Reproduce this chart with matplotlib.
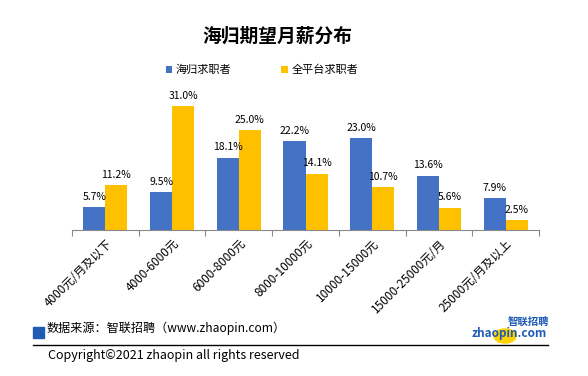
import matplotlib
matplotlib.use("Agg")
import matplotlib.pyplot as plt
import numpy as np
from matplotlib.patches import Circle, Rectangle

plt.rcParams['font.family'] = ['Noto Sans CJK SC', 'DejaVu Sans']

categories = ["4000元/月及以下", "4000-6000元", "6000-8000元", "8000-10000元",
              "10000-15000元", "15000-25000元/月", "25000元/月及以上"]
haigui = [5.7, 9.5, 18.1, 22.2, 23.0, 13.6, 7.9]
quanpingtai = [11.2, 31.0, 25.0, 14.1, 10.7, 5.6, 2.5]
series_names = ["海归求职者", "全平台求职者"]

BLUE = "#4472C4"
YELLOW = "#FFC000"

W, H = 588, 376
fig = plt.figure(figsize=(W / 100, H / 100), dpi=100)
# axes: x 72..539 px, baseline y=230 px, 4 px per percent
ax = fig.add_axes([72 / W, (H - 230) / H, (539 - 72) / W, 140 / H])
ax.set_ylim(0, 35)
x = np.arange(len(categories))
bw = 0.33
b1 = ax.bar(x - bw / 2, haigui, bw, color=BLUE, label=series_names[0])
b2 = ax.bar(x + bw / 2, quanpingtai, bw, color=YELLOW, label=series_names[1])
for bars, vals in ((b1, haigui), (b2, quanpingtai)):
    for r, v in zip(bars, vals):
        ax.text(r.get_x() + r.get_width() / 2, v + 1.3, f"{v:.1f}%",
                ha="center", va="bottom", fontsize=7.5)
ax.set_xlim(-0.5, len(categories) - 0.5)
ax.set_xticks(np.arange(len(categories) + 1) - 0.5, minor=False)
ax.set_xticklabels([])
ax.tick_params(axis="x", length=4, color="#888888", width=0.8)
ax.set_xticks(x, minor=True)
ax.set_xticklabels(categories, minor=True, rotation=45, ha="right",
                   rotation_mode="anchor", fontsize=8.5)
ax.tick_params(axis="x", which="minor", length=0, pad=5)
ax.set_yticks([])
for s in ("top", "right", "left"):
    ax.spines[s].set_visible(False)
ax.spines["bottom"].set_color("#888888")

fig.text(277 / W, 1 - 36 / H, "海归期望月薪分布", ha="center", va="center",
         fontsize=13.5, fontweight="bold")
leg = ax.legend(loc="center", ncol=2, frameon=False, fontsize=8,
                handlelength=0.55, handleheight=0.55,
                columnspacing=4.5, handletextpad=0.35)
leg.set_bbox_to_anchor((262 / W, 1 - 70 / H), transform=fig.transFigure)

# source footer
fig.patches.append(Rectangle((33 / W, 1 - 338 / H), 11 / W, 11 / H,
                             transform=fig.transFigure, color="#1F5BB5"))
fig.text(47 / W, 1 - 328 / H, "数据来源：智联招聘（www.zhaopin.com）",
         ha="left", va="center", fontsize=8.7)
fig.add_artist(plt.Line2D([33 / W, 548 / W], [1 - 345 / H, 1 - 345 / H],
                          transform=fig.transFigure, color="black", lw=1))
fig.text(48 / W, 1 - 355 / H, "Copyright©2021 zhaopin all rights reserved",
         ha="left", va="center", fontsize=9)

# logo
fig.patches.append(Circle((505 / W, 1 - 336 / H), 11 / W,
                          transform=fig.transFigure, color="#FFD200", zorder=1))
fig.text(528 / W, 1 - 322 / H, "智联招聘", ha="center", va="center",
         fontsize=7.5, color="#1F5BB5", fontweight="bold", style="italic", zorder=3)
fig.text(509 / W, 1 - 333 / H, "zhaopin.com", ha="center", va="center",
         fontsize=8.5, color="#1F5BB5", fontweight="bold", style="italic", zorder=3)

fig.savefig("out.png", dpi=100)
